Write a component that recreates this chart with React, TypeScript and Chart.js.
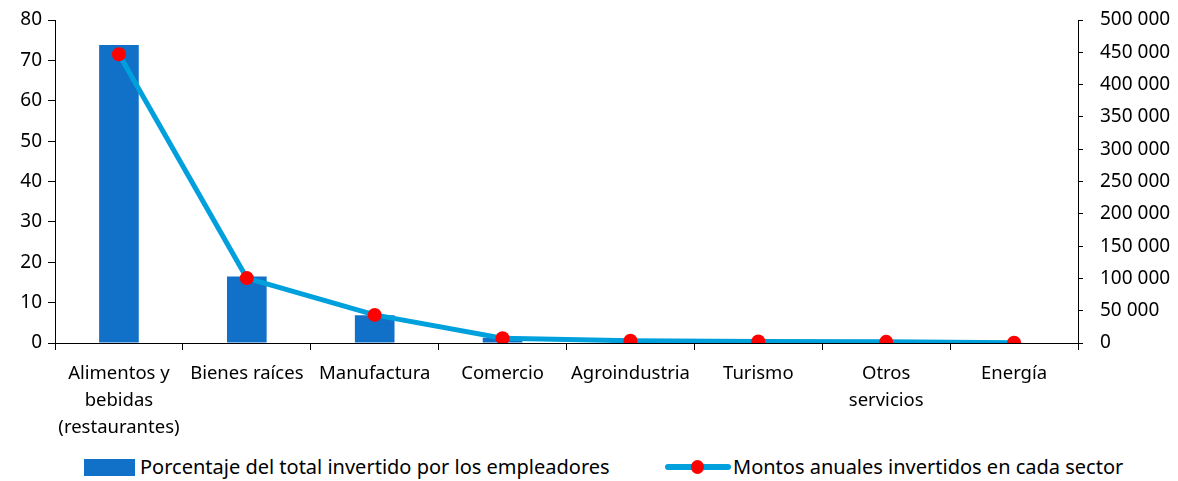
import React, { useEffect, useRef } from "react";
import { Chart, registerables } from "chart.js";

Chart.register(...registerables);

const categories: (string | string[])[] = [
  ["Alimentos y", "bebidas", "(restaurantes)"],
  "Bienes raíces",
  "Manufactura",
  "Comercio",
  "Agroindustria",
  "Turismo",
  ["Otros", "servicios"],
  "Energía",
];

const percentValues = [73.8, 16.5, 6.9, 1.3, 0.4, 0.3, 0.2, 0.1];
const amountValues = [447000, 100500, 43500, 7500, 3500, 2500, 1800, 300];

const leftTicks = { min: 0, max: 80, step: 10 };
const rightTicks = { min: 0, max: 500000, step: 50000 };

const barLabel = "Porcentaje del total invertido por los empleadores";
const lineLabel = "Montos anuales invertidos en cada sector";

const FONT = "'Noto Sans', sans-serif";
const BAR_COLOR = "#1170C8";
const LINE_COLOR = "#00A0DC";
const POINT_COLOR = "#FF0000";

const fmt = (v: number) =>
  String(Math.round(v)).replace(/\B(?=(\d{3})+(?!\d))/g, " ");

export default function App() {
  const ref = useRef<HTMLCanvasElement | null>(null);

  useEffect(() => {
    if (!ref.current) return;
    const chart = new Chart(ref.current, {
      data: {
        labels: categories,
        datasets: [
          {
            type: "line",
            label: lineLabel,
            data: amountValues,
            yAxisID: "y1",
            borderColor: LINE_COLOR,
            borderWidth: 5,
            tension: 0,
            pointRadius: 7,
            pointBackgroundColor: POINT_COLOR,
            pointBorderWidth: 0,
            order: 0,
          },
          {
            type: "bar",
            label: barLabel,
            data: percentValues,
            yAxisID: "y",
            backgroundColor: BAR_COLOR,
            barPercentage: 1,
            categoryPercentage: 0.31,
            order: 1,
          },
        ],
      },
      options: {
        responsive: false,
        animation: false,
        layout: { padding: { top: 12, left: 0, right: 0, bottom: 0 } },
        plugins: { legend: { display: false }, tooltip: { enabled: false } },
        scales: {
          x: {
            offset: true,
            grid: {
              display: true,
              offset: true,
              drawOnChartArea: false,
              drawTicks: true,
              tickLength: 7,
              color: "#000",
            },
            border: { display: true, color: "#000", width: 1 },
            ticks: {
              color: "#000",
              font: { family: FONT, size: 18.5, lineHeight: 1.46 },
              maxRotation: 0,
              autoSkip: false,
              padding: 10,
            },
            afterFit: (s: any) => {
              s.height = 105;
              s.paddingLeft = 0;
              s.paddingRight = 0;
            },
          },
          y: {
            position: "left",
            min: leftTicks.min,
            max: leftTicks.max,
            grid: {
              display: true,
              drawOnChartArea: false,
              drawTicks: true,
              tickLength: 7,
              color: "#000",
            },
            border: { display: true, color: "#000", width: 1 },
            ticks: {
              stepSize: leftTicks.step,
              color: "#000",
              font: { family: FONT, size: 19 },
              padding: 6,
            },
            afterFit: (s: any) => {
              s.width = 47;
              s.paddingTop = 0;
              s.paddingBottom = 0;
            },
          },
          y1: {
            position: "right",
            min: rightTicks.min,
            max: rightTicks.max,
            grid: {
              display: true,
              drawOnChartArea: false,
              drawTicks: true,
              tickLength: 5,
              color: "#000",
            },
            border: { display: true, color: "#000", width: 1 },
            ticks: {
              stepSize: rightTicks.step,
              color: "#000",
              font: { family: FONT, size: 19 },
              padding: 17,
              callback: (v: any) => fmt(Number(v)),
            },
            afterFit: (s: any) => {
              s.width = 92;
              s.paddingTop = 0;
              s.paddingBottom = 0;
            },
          },
        },
      },
    } as any);
    return () => chart.destroy();
  }, []);

  const textStyle: React.CSSProperties = {
    fontFamily: FONT,
    fontSize: 20,
    lineHeight: "24px",
    color: "#000",
    whiteSpace: "nowrap",
  };

  return (
    <div style={{ position: "relative", width: 1162, height: 473 }}>
      <canvas ref={ref} width={1162} height={440} style={{ display: "block" }} />
      <div
        style={{
          position: "absolute",
          left: 76,
          top: 447,
          height: 24,
          display: "flex",
          alignItems: "center",
        }}
      >
        <span
          style={{
            display: "inline-block",
            width: 51,
            height: 17,
            background: BAR_COLOR,
            marginRight: 5,
          }}
        />
        <span style={textStyle}>{barLabel}</span>
      </div>
      <div
        style={{
          position: "absolute",
          left: 657,
          top: 447,
          height: 24,
          display: "flex",
          alignItems: "center",
        }}
      >
        <span
          style={{
            position: "relative",
            display: "inline-block",
            width: 66,
            height: 24,
            marginRight: 2,
          }}
        >
          <span
            style={{
              position: "absolute",
              left: 0,
              right: 0,
              top: 9,
              height: 6,
              borderRadius: 3,
              background: LINE_COLOR,
            }}
          />
          <span
            style={{
              position: "absolute",
              left: 26,
              top: 5,
              width: 13,
              height: 14,
              borderRadius: "50%",
              background: POINT_COLOR,
            }}
          />
        </span>
        <span style={textStyle}>{lineLabel}</span>
      </div>
    </div>
  );
}
